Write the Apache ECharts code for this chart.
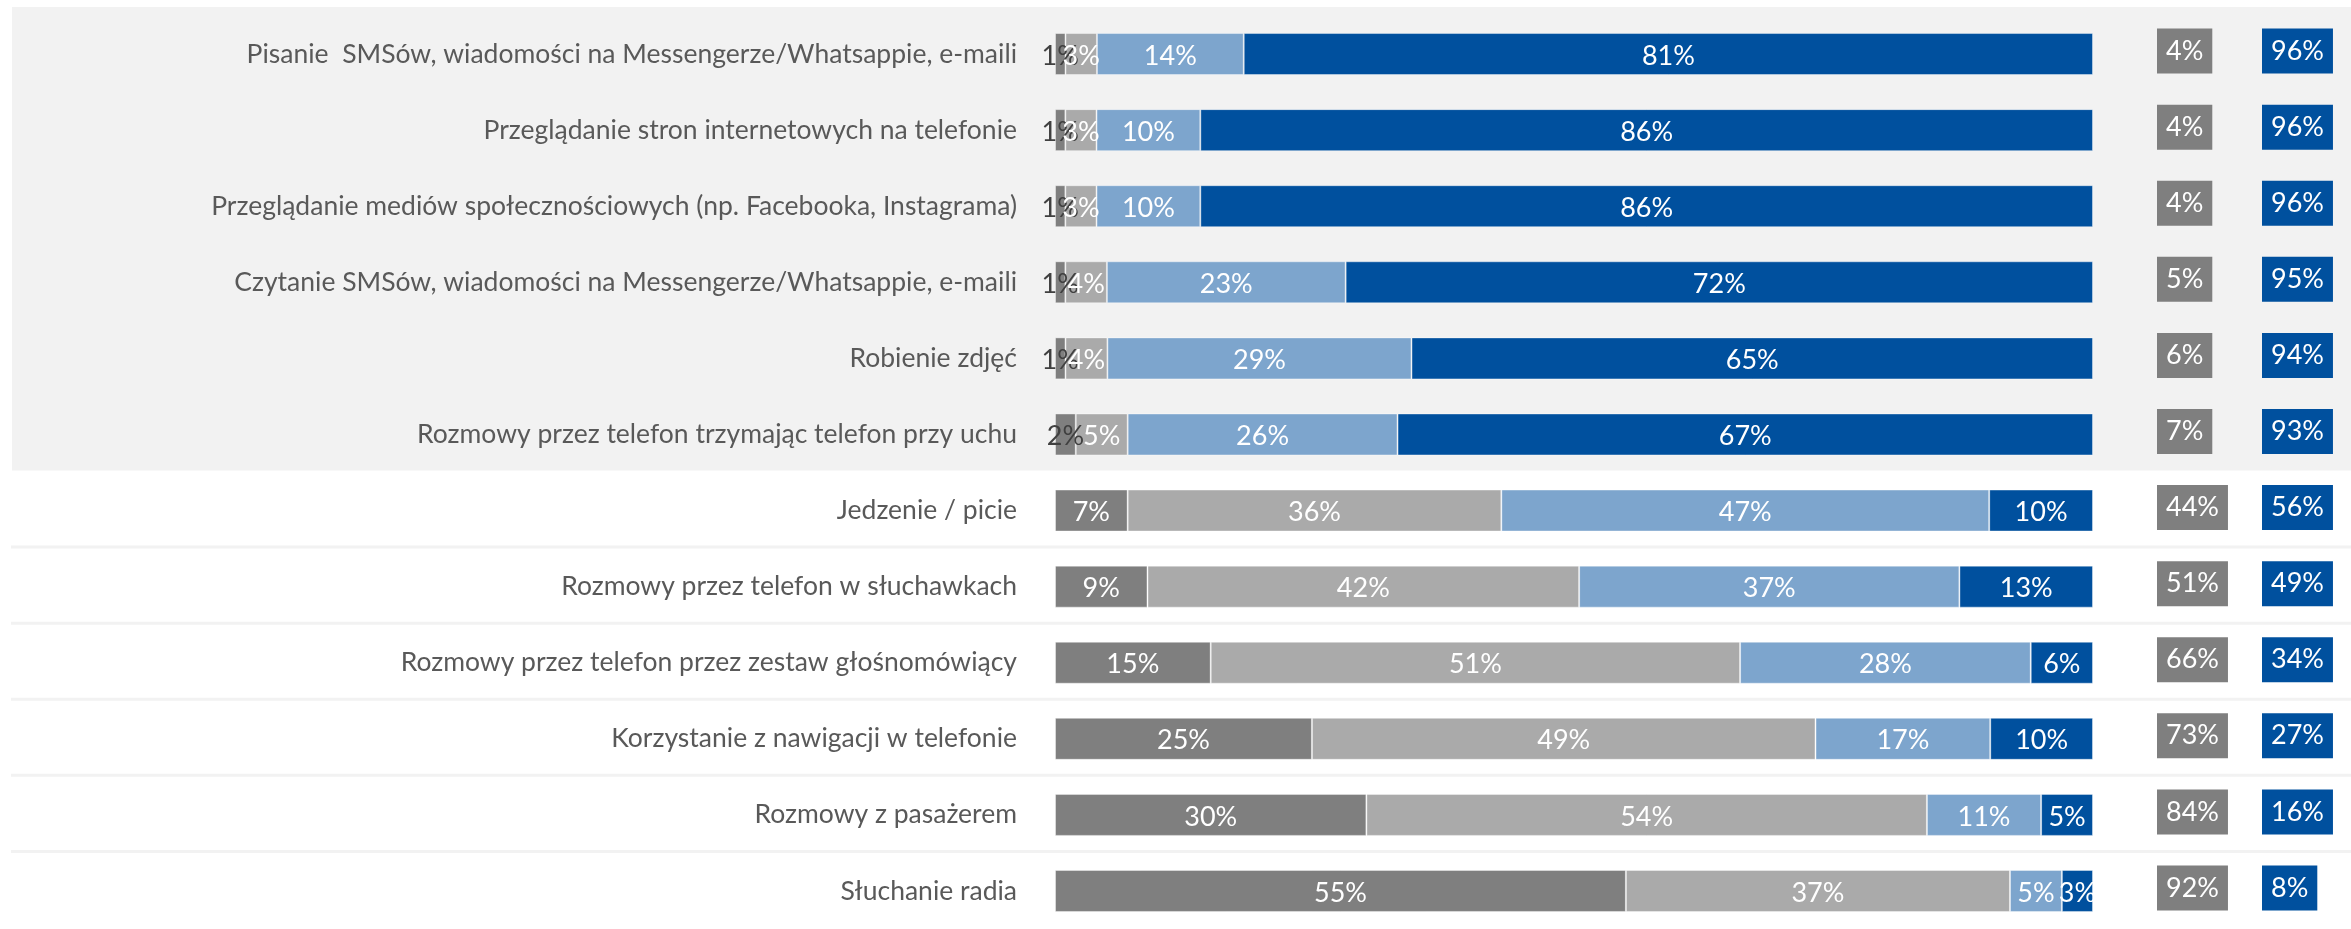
<!DOCTYPE html>
<html>
<head>
<meta charset="utf-8">
<script src="https://cdn.jsdelivr.net/npm/echarts@6/dist/echarts.min.js"></script>
<style>
html,body{margin:0;padding:0;background:#fff;}
#c{width:2351px;height:929px;}
</style>
</head>
<body>
<div id="c"></div>
<script>
const categories = [
  'Pisanie  SMSów, wiadomości na Messengerze/Whatsappie, e-maili',
  'Przeglądanie stron internetowych na telefonie',
  'Przeglądanie mediów społecznościowych (np. Facebooka, Instagrama)',
  'Czytanie SMSów, wiadomości na Messengerze/Whatsappie, e-maili',
  'Robienie zdjęć',
  'Rozmowy przez telefon trzymając telefon przy uchu',
  'Jedzenie / picie',
  'Rozmowy przez telefon w słuchawkach',
  'Rozmowy przez telefon przez zestaw głośnomówiący',
  'Korzystanie z nawigacji w telefonie',
  'Rozmowy z pasażerem',
  'Słuchanie radia'
];
const seriesNames = ['Zdecydowanie tak', 'Raczej tak', 'Raczej nie', 'Zdecydowanie nie'];
const s1 = [1, 1, 1, 1, 1, 2, 7, 9, 15, 25, 30, 55];
const s2 = [3, 3, 3, 4, 4, 5, 36, 42, 51, 49, 54, 37];
const s3 = [14, 10, 10, 23, 29, 26, 47, 37, 28, 17, 11, 5];
const s4 = [81, 86, 86, 72, 65, 67, 10, 13, 6, 10, 5, 3];
const totalYes = [4, 4, 4, 5, 6, 7, 44, 51, 66, 73, 84, 92];
const totalNo = [96, 96, 96, 95, 94, 93, 56, 49, 34, 27, 16, 8];

const colors = ['#7f7f7f', '#aaaaaa', '#7da5cd', '#00509e'];
const FONT = 'Lato, "Noto Sans", sans-serif';
const raw = [s1, s2, s3, s4];
const rowSum = categories.map((_, i) => raw.reduce((a, s) => a + s[i], 0));

const chart = echarts.init(document.getElementById('c'), null, {renderer: 'canvas'});

const gridTop = 16, gridBottom = -6;
const series = raw.map((arr, k) => ({
  name: seriesNames[k],
  type: 'bar',
  stack: 'total',
  xAxisIndex: 0, yAxisIndex: 0,
  barWidth: 42,
  itemStyle: {color: colors[k], borderColor: 'rgba(255,255,255,0.4)', borderWidth: 1},
  label: {
    show: true,
    position: 'inside',
    fontFamily: FONT,
    fontSize: 27,
    offset: [0, 2],
    formatter: p => arr[p.dataIndex] + '%',
    color: '#fff'
  },
  data: arr.map((v, i) => ({
    value: v / rowSum[i] * 100,
    label: (k === 0 && v < 3) ? {color: '#404040'} : undefined
  }))
}));

function boxSeries(gridIdx, values, bg) {
  return {
    type: 'bar',
    xAxisIndex: gridIdx, yAxisIndex: gridIdx,
    barWidth: 42,
    itemStyle: {color: 'rgba(0,0,0,0)'},
    silent: true,
    label: {
      show: true,
      position: 'insideLeft',
      distance: 0,
      offset: [0, -3],
      fontFamily: FONT,
      fontSize: 27,
      lineHeight: 28,
      color: '#fff',
      backgroundColor: bg,
      padding: [9, 9, 8, 9],
      formatter: p => values[p.dataIndex] + '%'
    },
    data: values.map(() => 1)
  };
}
series.push(boxSeries(1, totalYes, '#7f7f7f'));
series.push(boxSeries(2, totalNo, '#00509e'));

const hiddenY = (i) => ({
  type: 'category', gridIndex: i, data: categories, inverse: true,
  axisLine: {show: false}, axisTick: {show: false}, axisLabel: {show: false}
});
const hiddenX = (i, max) => ({
  type: 'value', gridIndex: i, min: 0, max: max, show: false
});

chart.setOption({
  animation: false,
  backgroundColor: '#ffffff',
  grid: [
    {left: 1055, right: 258, top: gridTop, bottom: gridBottom},
    {left: 2157, width: 90, top: gridTop, bottom: gridBottom},
    {left: 2262, width: 80, top: gridTop, bottom: gridBottom}
  ],
  xAxis: [hiddenX(0, 100), hiddenX(1, 1), hiddenX(2, 1)],
  yAxis: [
    {
      type: 'category', gridIndex: 0, data: categories, inverse: true,
      axisLine: {show: false}, axisTick: {show: false},
      axisLabel: {
        margin: 38, fontFamily: FONT, fontSize: 26.5, color: '#595959',
        padding: [0, 0, 10, 0]
      }
    },
    hiddenY(1), hiddenY(2)
  ],
  series: series
});

// background band for the first six rows and separators for the rest
const py = categories.map(c => chart.convertToPixel({yAxisIndex: 0}, c));
const pitch = py[1] - py[0];
const W = 2351;
const graphics = [];
const bgTop = py[0] - pitch / 2 - 9;
const bgBottom = py[5] + pitch / 2 - 2;
graphics.push({
  type: 'rect', z: -10, silent: true,
  shape: {x: 12, y: bgTop, width: W - 12, height: bgBottom - bgTop},
  style: {fill: '#f2f2f2'}
});
for (let i = 6; i < categories.length - 1; i++) {
  graphics.push({
    type: 'rect', z: -10, silent: true,
    shape: {x: 11, y: py[i] + pitch / 2 - 3, width: W - 11, height: 3},
    style: {fill: '#f2f2f2'}
  });
}
chart.setOption({graphic: graphics});
</script>
</body>
</html>
